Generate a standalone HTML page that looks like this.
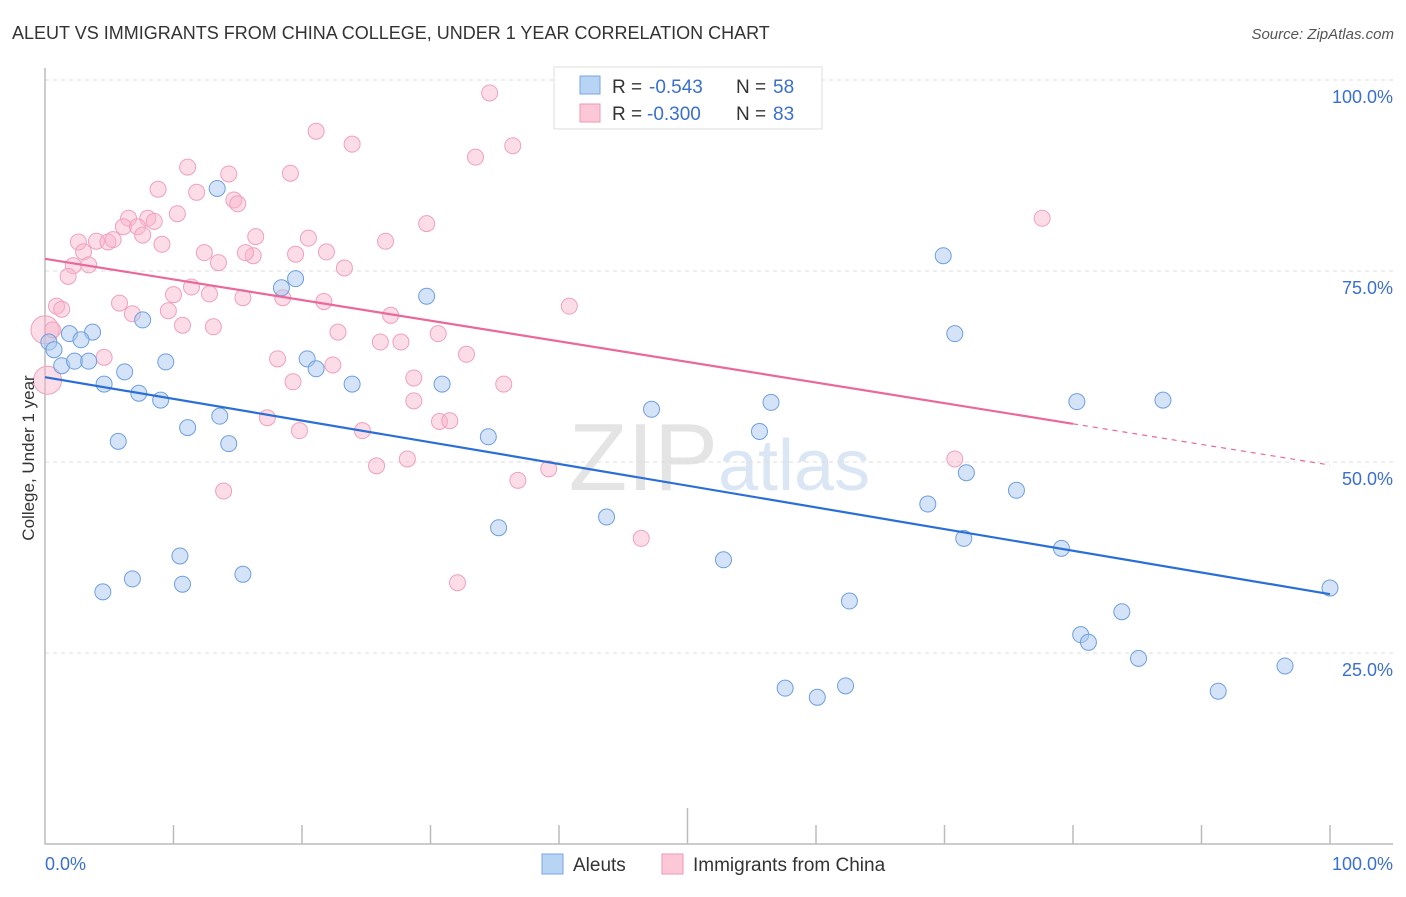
<!DOCTYPE html>
<html><head><meta charset="utf-8"><style>
body{margin:0;background:#fff;font-family:"Liberation Sans",sans-serif;}
svg text{font-family:"Liberation Sans",sans-serif;}
</style></head><body>
<svg id="chart" width="1406" height="892" viewBox="0 0 1406 892" xmlns="http://www.w3.org/2000/svg">
<text x="12" y="39" font-size="18" fill="#333">ALEUT VS IMMIGRANTS FROM CHINA COLLEGE, UNDER 1 YEAR CORRELATION CHART</text>
<text x="1394" y="39" font-size="15" fill="#555" text-anchor="end" font-style="italic">Source: ZipAtlas.com</text>
<text x="718" y="490" font-size="96" fill="#e4e4e4" text-anchor="end" font-family="Liberation Serif">ZIP</text>
<text x="718" y="490" font-size="72" fill="#dbe6f5">atlas</text>
<g id="grid"></g>
<g id="axes"></g>
<g id="pts"></g>
<g id="trends"></g>
<text transform="translate(34,458) rotate(-90)" font-size="17" fill="#333" text-anchor="middle">College, Under 1 year</text>
<g>
<rect x="554" y="67" width="268" height="62" fill="#fff" stroke="#ddd"/>
<rect x="580" y="76" width="20" height="18" fill="#b8d4f5" stroke="#7aa6e0"/>
<rect x="580" y="104" width="20" height="18" fill="#fcc8d8" stroke="#eb9ab4"/>
<text x="612" y="93" font-size="19" fill="#333">R =</text>
<text x="649" y="93" font-size="19" fill="#3a6fd0">-0.543</text>
<text x="736" y="93" font-size="19" fill="#333">N =</text>
<text x="773" y="93" font-size="19" fill="#3a6fd0">58</text>
<text x="612" y="120" font-size="19" fill="#333">R =</text>
<text x="647" y="120" font-size="19" fill="#3a6fd0">-0.300</text>
<text x="736" y="120" font-size="19" fill="#333">N =</text>
<text x="773" y="120" font-size="19" fill="#3a6fd0">83</text>
</g>
<g>
<rect x="542" y="854" width="21" height="20" fill="#b8d4f5" stroke="#7aa6e0"/>
<text x="573" y="871" font-size="19" fill="#333">Aleuts</text>
<rect x="662" y="854" width="21" height="20" fill="#fcc8d8" stroke="#eb9ab4"/>
<text x="693" y="871" font-size="19" fill="#333">Immigrants from China</text>
</g>
</svg>
<script>
const blueX=[13.4,19.5,18.4,29.7,69.9,70.8,0.3,0.7,1.9,3.7,2.8,1.3,2.3,3.4,4.6,6.2,7.3,9.0,9.4,7.6,20.4,21.1,23.9,30.9,5.7,11.1,14.3,13.6,34.5,47.2,55.6,56.5,71.7,75.6,80.3,87.0,68.7,71.5,79.1,43.7,35.3,10.5,6.8,4.5,10.7,15.4,52.8,62.6,80.6,81.2,83.8,85.1,96.5,91.3,57.6,60.1,62.3,100];
const blueY=[85.8,74.0,72.8,71.7,77.0,66.8,65.7,64.7,66.8,67.0,66.0,62.6,63.2,63.2,60.2,61.8,59.0,58.1,63.1,68.6,63.5,62.2,60.2,60.2,52.7,54.5,52.4,56.0,53.3,56.9,54.0,57.8,48.6,46.3,57.9,58.1,44.5,40.0,38.7,42.8,41.4,37.7,34.7,33.0,34.0,35.3,37.2,31.8,27.4,26.4,30.4,24.3,23.3,20.0,20.4,19.2,20.7,33.5];
const pinkX=[34.6,21.1,23.9,36.4,33.5,11.1,19.1,14.3,8.8,11.8,14.7,15.0,10.3,6.5,8.0,8.5,6.1,7.2,7.6,2.6,4.0,4.9,5.3,9.1,16.4,20.5,26.5,29.7,77.6,12.4,13.5,16.2,15.6,19.5,21.9,23.3,3.0,3.4,2.2,1.8,10.0,11.4,12.8,5.8,15.4,18.5,21.7,0.9,1.3,9.6,6.8,10.7,13.1,22.8,26.9,26.1,27.7,30.6,40.8,32.8,4.6,18.1,22.4,0.0,0.2,19.3,28.7,28.7,35.7,30.7,31.5,17.3,24.7,19.8,28.2,25.8,36.8,39.2,70.8,13.9,46.4,32.1,0.6];
const pinkY=[98.3,93.3,91.6,91.4,89.9,88.6,87.8,87.7,85.7,85.3,84.3,83.8,82.5,81.9,81.9,81.5,80.8,80.8,79.7,78.8,78.9,78.8,79.1,78.5,79.5,79.3,78.9,81.2,81.9,77.4,76.1,77.0,77.4,77.2,77.5,75.4,77.5,75.8,75.7,74.3,71.9,72.9,72.0,70.8,71.5,71.5,71.0,70.4,70.0,69.8,69.4,67.9,67.7,67.0,69.2,65.7,65.7,66.8,70.4,64.1,63.7,63.5,62.7,67.3,60.7,60.5,61.0,58.0,60.2,55.3,55.4,55.8,54.1,54.1,50.4,49.5,47.6,49.1,50.4,46.2,40.0,34.2,67.3];
const pinkR=pinkX.map((v,i)=>(i===63||i===64)?1:0);
const blueLine=[61.1,32.7];
const pinkLine=[76.6,49.6];
const pinkSolidEnd=80;
const xTicks=["0.0%","100.0%"];
const yTicks=[25,50,75,100];
const NS="http://www.w3.org/2000/svg";
const X=v=>45+v*12.85, Y=v=>844-v*7.64;
function mk(t,a,p){const e=document.createElementNS(NS,t);for(const k in a)e.setAttribute(k,a[k]);p.appendChild(e);return e;}
const grid=document.getElementById('grid'),axes=document.getElementById('axes'),pts=document.getElementById('pts'),tr=document.getElementById('trends');
yTicks.forEach(t=>{const l=mk('line',{x1:45,x2:1393,y1:Y(t),y2:Y(t),stroke:'#ddd','stroke-dasharray':'4,4'},grid);

const tx=mk('text',{x:1393,y:Y(t)+23,'font-size':18,fill:'#3a6fd0','text-anchor':'end'},grid);tx.textContent=t.toFixed(1)+'%';
});
const ax=mk('path',{d:'M45,68 V844 H1393',fill:'none',stroke:'#bbb','stroke-width':1.5},axes);

for(let i=1;i<=10;i++){const tk=mk('line',{x1:X(i*10),x2:X(i*10),y1:i==5?808:825,y2:844,stroke:'#bbb','stroke-width':1.5},axes);
}
[[0,'start',45],[1,'end',1393]].forEach(([i,an,x])=>{const t=mk('text',{x:x,y:870,'font-size':18,fill:'#3a6fd0','text-anchor':an},axes);t.textContent=xTicks[i];
});
pinkX.forEach((v,i)=>{const c=mk('circle',{cx:X(v),cy:Y(pinkY[i]),r:pinkR[i]?14:8,fill:'rgba(248,180,202,0.45)',stroke:'#f0a0bb','stroke-width':1},pts);
});
blueX.forEach((v,i)=>{const c=mk('circle',{cx:X(v),cy:Y(blueY[i]),r:8,fill:'rgba(170,200,240,0.5)',stroke:'#6e9fe0','stroke-width':1},pts);
});
const bl=mk('line',{x1:X(0),y1:Y(blueLine[0]),x2:X(100),y2:Y(blueLine[1]),stroke:'#2a6fd6','stroke-width':2.2},tr);

const py=x=>pinkLine[0]+(pinkLine[1]-pinkLine[0])*x/100;
const pl=mk('line',{x1:X(0),y1:Y(py(0)),x2:X(pinkSolidEnd),y2:Y(py(pinkSolidEnd)),stroke:'#e8699a','stroke-width':2.2},tr);

const pd=mk('line',{x1:X(pinkSolidEnd),y1:Y(py(pinkSolidEnd)),x2:X(100),y2:Y(py(100)),stroke:'#e8699a','stroke-width':1.2,'stroke-dasharray':'5,5'},tr);

</script>
</body></html>
